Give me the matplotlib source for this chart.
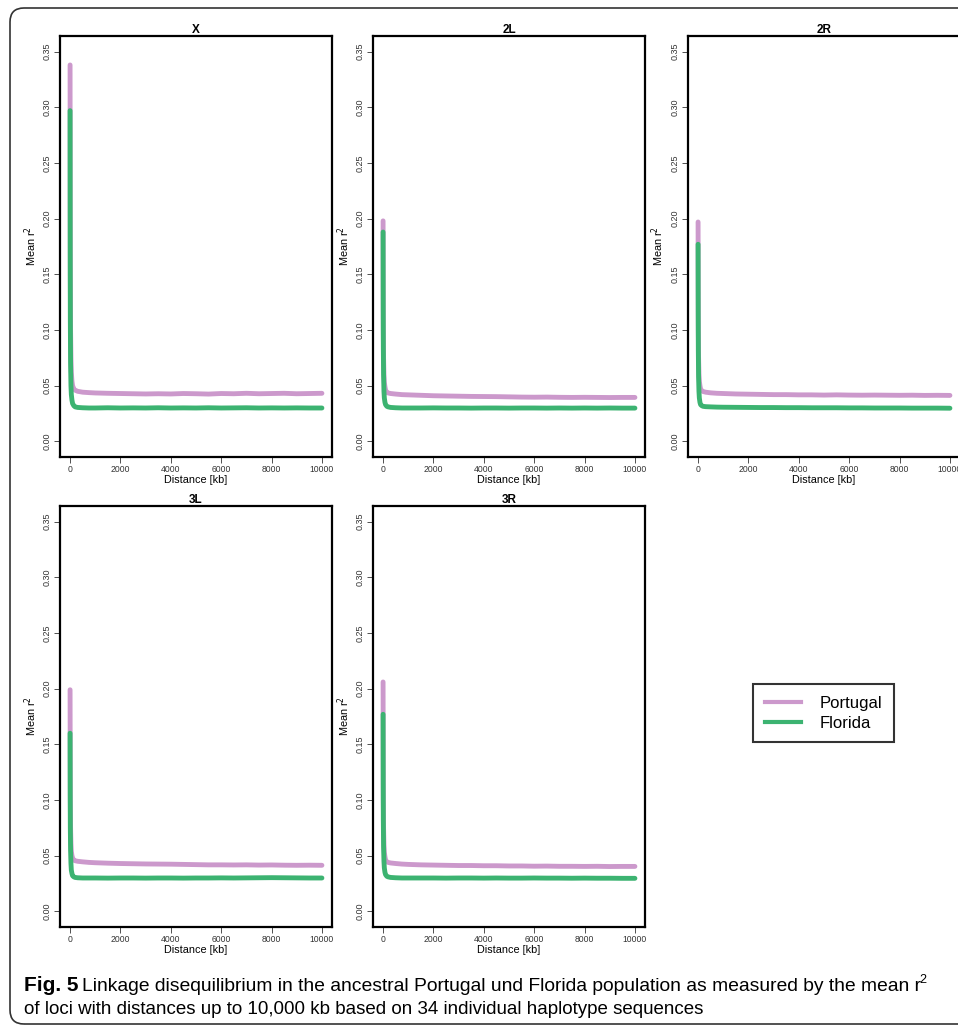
import matplotlib
matplotlib.use("Agg")
import matplotlib.pyplot as plt
from matplotlib.patches import FancyBboxPatch
from matplotlib.lines import Line2D

plt.rcParams['font.family'] = ['Liberation Sans', 'DejaVu Sans']

dist_kb = [0, 5, 10, 20, 35, 50, 75, 100, 150, 200, 300, 500, 750, 1000,
           1500, 2000, 2500, 3000, 3500, 4000, 4500, 5000, 5500, 6000,
           6500, 7000, 7500, 8000, 8500, 9000, 9500, 10000]

chrom = ['X', '2L', '2R', '3L', '3R']

portugal = {
    'X':  [0.338, 0.21, 0.15, 0.10, 0.075, 0.062, 0.054, 0.050, 0.047, 0.046,
           0.045, 0.0442, 0.0438, 0.0435, 0.0432, 0.0430, 0.0428, 0.0426,
           0.0428, 0.0426, 0.0430, 0.0428, 0.0425, 0.0430, 0.0428, 0.0432,
           0.0428, 0.0430, 0.0432, 0.0428, 0.0430, 0.0432],
    '2L': [0.198, 0.14, 0.10, 0.075, 0.060, 0.053, 0.049, 0.046, 0.044, 0.0435,
           0.0430, 0.0425, 0.0420, 0.0418, 0.0414, 0.0410, 0.0408, 0.0406,
           0.0404, 0.0403, 0.0402, 0.0400, 0.0398, 0.0397, 0.0398, 0.0396,
           0.0395, 0.0396, 0.0395, 0.0394, 0.0395, 0.0395],
    '2R': [0.197, 0.14, 0.10, 0.075, 0.061, 0.054, 0.050, 0.047, 0.0455, 0.0448,
           0.0442, 0.0436, 0.0432, 0.0430, 0.0426, 0.0424, 0.0422, 0.0420,
           0.0420, 0.0418, 0.0418, 0.0416, 0.0418, 0.0416, 0.0415, 0.0416,
           0.0415, 0.0414, 0.0415, 0.0413, 0.0414, 0.0413],
    '3L': [0.199, 0.14, 0.10, 0.075, 0.061, 0.054, 0.050, 0.048, 0.046, 0.0455,
           0.0450, 0.0445, 0.0440, 0.0437, 0.0433, 0.0430, 0.0428, 0.0426,
           0.0425, 0.0424, 0.0422, 0.0420, 0.0418, 0.0418, 0.0417, 0.0418,
           0.0416, 0.0417, 0.0415, 0.0414, 0.0415, 0.0414],
    '3R': [0.206, 0.145, 0.10, 0.075, 0.060, 0.053, 0.049, 0.046, 0.0445, 0.044,
           0.0435, 0.0430, 0.0425, 0.0422, 0.0418, 0.0416, 0.0414, 0.0412,
           0.0412, 0.0410, 0.0410, 0.0408, 0.0408, 0.0406, 0.0407, 0.0405,
           0.0405, 0.0404, 0.0405, 0.0403, 0.0404, 0.0404],
}

florida = {
    'X':  [0.297, 0.17, 0.11, 0.070, 0.050, 0.042, 0.037, 0.034, 0.032, 0.031,
           0.0305, 0.0302, 0.0300, 0.0300, 0.0302, 0.0300, 0.0301, 0.0300,
           0.0302, 0.0300, 0.0301, 0.0300, 0.0302, 0.0300, 0.0301, 0.0302,
           0.0300, 0.0301, 0.0300, 0.0301, 0.0300, 0.0300],
    '2L': [0.188, 0.12, 0.085, 0.060, 0.045, 0.039, 0.035, 0.033, 0.0315, 0.031,
           0.0305, 0.0302, 0.0300, 0.0300, 0.0300, 0.0301, 0.0300, 0.0300,
           0.0299, 0.0300, 0.0300, 0.0299, 0.0300, 0.0300, 0.0299, 0.0300,
           0.0299, 0.0300, 0.0299, 0.0300, 0.0299, 0.0299],
    '2R': [0.177, 0.115, 0.082, 0.058, 0.045, 0.039, 0.035, 0.033, 0.032, 0.0315,
           0.0312, 0.0310, 0.0308, 0.0307, 0.0306, 0.0305, 0.0304, 0.0304,
           0.0303, 0.0303, 0.0302, 0.0302, 0.0302, 0.0301, 0.0301, 0.0300,
           0.0300, 0.0300, 0.0299, 0.0299, 0.0299, 0.0298],
    '3L': [0.160, 0.105, 0.075, 0.055, 0.043, 0.037, 0.034, 0.032, 0.031, 0.0305,
           0.0302, 0.0300, 0.0300, 0.0300, 0.0299, 0.0300, 0.0300, 0.0299,
           0.0300, 0.0300, 0.0299, 0.0300, 0.0300, 0.0301, 0.0300, 0.0301,
           0.0302, 0.0303, 0.0302, 0.0301, 0.0300, 0.0300],
    '3R': [0.177, 0.115, 0.082, 0.058, 0.045, 0.039, 0.035, 0.033, 0.0315, 0.031,
           0.0305, 0.0302, 0.0300, 0.0300, 0.0300, 0.0300, 0.0299, 0.0300,
           0.0300, 0.0299, 0.0300, 0.0299, 0.0299, 0.0300, 0.0299, 0.0299,
           0.0298, 0.0299, 0.0298, 0.0298, 0.0297, 0.0297],
}

col_portugal = '#CC99CC'
col_florida = '#3CB371'

W, H = 958, 1028
fig = plt.figure(figsize=(W / 100, H / 100), dpi=100)

# axes boxes in pixels: left, top
boxes = {'X': (60, 36), '2L': (373, 36), '2R': (688, 36),
         '3L': (60, 506), '3R': (373, 506)}
bw, bh = 272, 421

yticks = [0.00, 0.05, 0.10, 0.15, 0.20, 0.25, 0.30, 0.35]
xticks = [0, 2000, 4000, 6000, 8000, 10000]

for c in chrom:
    left, top = boxes[c]
    ax = fig.add_axes([left / W, 1 - (top + bh) / H, bw / W, bh / H])
    ax.plot(dist_kb, portugal[c], color=col_portugal, lw=3.5, solid_capstyle='round')
    ax.plot(dist_kb, florida[c], color=col_florida, lw=3.5, solid_capstyle='round')
    ax.set_xlim(-400, 10400)
    ax.set_ylim(-0.014, 0.364)
    ax.set_yticks(yticks)
    ax.set_yticklabels(['%.2f' % v for v in yticks], rotation=90, va='center',
                       fontsize=6.5, color='#222222')
    ax.set_xticks(xticks)
    ax.set_xticklabels([str(v) for v in xticks], fontsize=6.2, color='#222222')
    ax.tick_params(length=4, width=0.6, pad=2, colors='#333333')
    for sp in ax.spines.values():
        sp.set_linewidth(1.6)
    ax.set_xlabel('Distance [kb]', fontsize=7.8, labelpad=0.5)
    ax.set_ylabel('Mean r$^2$', fontsize=7.8, labelpad=3)
    ax.set_title(c, fontsize=8.5, fontweight='bold', pad=1)

# legend
handles = [Line2D([], [], color=col_portugal, lw=3),
           Line2D([], [], color=col_florida, lw=3)]
leg = fig.legend(handles, ['Portugal', 'Florida'],
                 loc='upper left', bbox_to_anchor=(753 / W, 1 - 684 / H),
                 fontsize=12, frameon=True, fancybox=False, handlelength=2.2,
                 handletextpad=1.1, borderpad=0.7, labelspacing=0.3,
                 borderaxespad=0)
leg.get_frame().set_edgecolor('black')
leg.get_frame().set_linewidth(1.5)

# outer rounded frame
frame = FancyBboxPatch((10, H - 1024), 1000, 1016,
                       boxstyle='round,pad=0,rounding_size=14',
                       transform=None, fill=False, edgecolor='#333333', lw=1.2)
fig.patches.append(frame)

# caption
cap_font = ['Liberation Sans', 'DejaVu Sans']
fig.canvas.draw()
r = fig.canvas.get_renderer()
y1 = 1 - 991 / H
y2 = 1 - 1014 / H
t0 = fig.text(24 / W, y1, 'Fig. 5', fontsize=15, fontweight='bold',
              family=cap_font, va='baseline')
bb = t0.get_window_extent(r)
t1 = fig.text((bb.x1 + 4) / W, y1,
              'Linkage disequilibrium in the ancestral Portugal und Florida '
              'population as measured by the mean r',
              fontsize=13.9, family=cap_font, va='baseline')
bb = t1.get_window_extent(r)
fig.text((bb.x1 - 2) / W, y1 + 8 / H, '2', fontsize=9, family=cap_font,
         va='baseline')
fig.text(24 / W, y2,
         'of loci with distances up to 10,000 kb based on 34 individual '
         'haplotype sequences', fontsize=13.5, family=cap_font, va='baseline')

fig.savefig('out.png', dpi=100)
